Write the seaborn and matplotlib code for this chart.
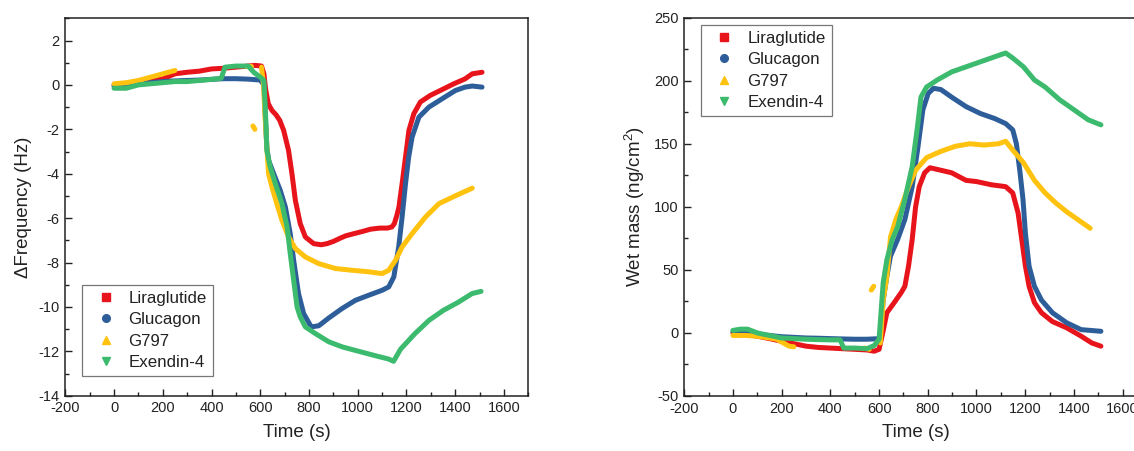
import numpy as np
import pandas as pd
import matplotlib
matplotlib.use("Agg")
import matplotlib.pyplot as plt
from matplotlib.lines import Line2D
from matplotlib.ticker import MultipleLocator
import seaborn as sns

nan = float("nan")

# ---------------- QCM-D frequency shift (Hz) ----------------
t_lira_f = [0, 50, 100, 150, 200, 250, 300, 350, 400, 450, 500, 550, 580, 605, 615, 622, 633, 648, 665, 680,
            696, 716, 730, 744, 764, 785, 819, 850, 874, 900, 929, 950, 984, 1020, 1052, 1090, 1121, 1140,
            1150, 1160, 1169, 1182, 1196, 1210, 1230, 1257, 1298, 1339, 1394, 1440, 1470, 1510]
f_lira = [0.0, 0.05, 0.1, 0.18, 0.27, 0.5, 0.57, 0.62, 0.72, 0.75, 0.8, 0.85, 0.88, 0.85, 0.5, -0.2, -0.85,
          -1.15, -1.35, -1.6, -2.05, -2.95, -4.0, -5.2, -6.25, -6.85, -7.15, -7.2, -7.15, -7.05, -6.9, -6.8,
          -6.7, -6.6, -6.5, -6.45, -6.45, -6.4, -6.25, -5.9, -5.5, -4.45, -3.25, -2.05, -1.3, -0.77, -0.47,
          -0.25, 0.05, 0.27, 0.5, 0.57]

t_gluc_f = [0, 50, 100, 150, 200, 250, 300, 350, 400, 450, 500, 550, 600, 615, 622, 627, 634, 655, 682, 703,
            723, 737, 757, 778, 809, 840, 881, 936, 991, 1046, 1100, 1127, 1148, 1168, 1182, 1196, 1209, 1223,
            1251, 1292, 1347, 1401, 1440, 1470, 1510]
f_gluc = [-0.05, 0.0, 0.05, 0.1, 0.15, 0.18, 0.2, 0.22, 0.25, 0.28, 0.28, 0.26, 0.22, 0.0, -1.75, -2.8, -3.4,
          -4.0, -4.75, -5.5, -6.7, -7.9, -9.4, -10.3, -10.9, -10.85, -10.5, -10.07, -9.7, -9.47, -9.25, -9.1,
          -8.65, -7.3, -5.95, -4.45, -3.25, -2.35, -1.45, -1.0, -0.62, -0.25, -0.1, -0.05, -0.1]

# NaN entries mark gaps in the recording
t_g797_f = [0, 50, 100, 150, 200, 250, nan, 540, 560, nan, 570, 578, nan,
            605, 613, 620, 627, 634, 648, 668, 689, 716, 744, 785, 840, 908, 977, 1046, 1100, 1127, 1155,
            1182, 1223, 1278, 1333, 1400, 1440, 1470]
f_g797 = [0.05, 0.1, 0.2, 0.35, 0.5, 0.65, nan, 0.85, 0.85, nan, -1.85, -2.0, nan,
          0.8, 0.05, -1.5, -2.8, -4.0, -4.6, -5.35, -6.1, -6.85, -7.37, -7.75, -8.05, -8.27, -8.35, -8.42,
          -8.5, -8.35, -7.9, -7.3, -6.7, -5.95, -5.35, -5.0, -4.8, -4.65]

t_exen_f = [0, 50, 100, 150, 200, 250, 300, 350, 400, 440, 455, 500, 550, 575, 600, 615, 624, 627, 641, 662,
            689, 710, 723, 737, 751, 764, 785, 826, 881, 936, 1004, 1073, 1127, 1147, 1176, 1235, 1293, 1352,
            1411, 1469, 1506]
f_exen = [-0.15, -0.15, 0.0, 0.05, 0.1, 0.15, 0.15, 0.2, 0.25, 0.3, 0.8, 0.85, 0.85, 0.55, 0.35, 0.2, -1.9,
          -2.95, -3.7, -4.45, -5.35, -6.4, -7.6, -8.8, -10.0, -10.45, -10.9, -11.2, -11.57, -11.8, -12.0,
          -12.2, -12.35, -12.45, -11.9, -11.2, -10.6, -10.15, -9.8, -9.4, -9.3]

# ---------------- Wet mass (ng/cm^2) ----------------
t_lira_m = [0, 50, 100, 150, 200, 250, 300, 350, 400, 450, 500, 550, 580, 600, 615, 632, 662, 691, 706, 721,
            736, 750, 765, 787, 809, 854, 898, 957, 1001, 1061, 1120, 1149, 1171, 1186, 1201, 1216, 1238,
            1267, 1312, 1371, 1430, 1474, 1511]
m_lira = [0, -1, -2.6, -4.5, -6.6, -8.5, -10.5, -11.5, -12, -12.5, -13, -13.5, -14.5, -13, 0, 16, 24, 32, 37,
          53, 74, 100, 116, 127, 131, 129, 127, 121, 120, 117.5, 116, 111, 95, 74, 53, 37, 24, 16, 9, 4,
          -2.6, -8, -10.5]

t_gluc_m = [0, 50, 100, 150, 200, 250, 300, 350, 400, 455, 500, 550, 603, 617, 632, 647, 676, 706, 736, 758,
            780, 802, 824, 854, 898, 957, 1016, 1075, 1120, 1149, 1164, 1179, 1191, 1201, 1216, 1238, 1267,
            1312, 1371, 1430, 1511]
m_gluc = [1.3, 2, -1, -2, -3, -3.5, -4, -4.2, -4.5, -4.8, -5, -5, -4.5, 26, 45, 61, 74, 90, 116, 145, 177,
          190, 194, 193, 187, 179.5, 174, 170, 166, 161, 150, 127, 106, 79, 53, 37, 26, 16, 8, 2.6, 1.3]

t_g797_m = [0, 50, 100, 150, 180, 230, 250, nan, 540, 560, nan, 568, 578, nan,
            605, 617, 632, 647, 669, 691, 721, 750, 795, 854, 913, 972, 1031, 1090, 1120, 1149, 1193, 1238,
            1282, 1326, 1371, 1430, 1467]
m_g797 = [-2, -2, -2.6, -4, -5, -10.5, -11, nan, -12, -13, nan, 34, 37, nan,
          -8, 26, 45, 76, 90, 100, 116, 129, 139, 144, 148, 150, 149, 150, 152, 145, 135, 121, 111, 103, 96,
          88, 83]

t_exen_m = [0, 30, 60, 100, 150, 200, 250, 300, 350, 400, 440, 455, 500, 550, 580, 600, 617, 632, 654, 676,
            706, 736, 758, 772, 795, 839, 898, 957, 1016, 1075, 1120, 1149, 1193, 1238, 1282, 1341, 1400,
            1459, 1511]
m_exen = [2, 3, 3, 0, -2, -4, -4.5, -5, -5.3, -5.5, -5.5, -12, -12, -12.5, -10, -5, 40, 58, 74, 84, 106,
          132, 164, 187, 195, 200.6, 207, 211, 215, 219, 222, 218, 211, 200.6, 195, 185, 177, 169, 165]

series_names = ["Liraglutide", "Glucagon", "G797", "Exendin-4"]
series_colors = ["#E8141C", "#2E5E9A", "#FFC20E", "#3CBA6E"]
series_markers = ["s", "o", "^", "v"]

freq_data = [(t_lira_f, f_lira), (t_gluc_f, f_gluc), (t_g797_f, f_g797), (t_exen_f, f_exen)]
mass_data = [(t_lira_m, m_lira), (t_gluc_m, m_gluc), (t_g797_m, m_g797), (t_exen_m, m_exen)]


def long_form(pairs):
    frames = []
    for name, (t, v) in zip(series_names, pairs):
        d = pd.DataFrame({"t": np.asarray(t, float), "v": np.asarray(v, float)})
        d["seg"] = d["t"].isna().cumsum()
        d["series"] = name
        frames.append(d.dropna())
    return pd.concat(frames, ignore_index=True)


sns.set_style("ticks")
plt.rcParams["font.family"] = ["Liberation Sans", "DejaVu Sans"]
plt.rcParams["mathtext.fontset"] = "custom"
plt.rcParams["mathtext.rm"] = "Liberation Sans"
plt.rcParams["mathtext.default"] = "regular"
plt.rcParams["axes.unicode_minus"] = False

fig = plt.figure(figsize=(11.34, 4.51), dpi=100)
ax1 = fig.add_axes([0.0576, 0.1226, 0.4083, 0.8368])
ax2 = fig.add_axes([0.6034, 0.1220, 0.4080, 0.8388])

palette = dict(zip(series_names, series_colors))


def draw(ax, pairs, ylim, ymaj, ymin, ylabel, legend_kw):
    df = long_form(pairs)
    sns.lineplot(data=df, x="t", y="v", hue="series", hue_order=series_names, palette=palette,
                 units="seg", estimator=None, sort=False, lw=3.6, legend=False, ax=ax)
    ax.set_xlim(-200, 1700)
    ax.set_ylim(*ylim)
    ax.xaxis.set_major_locator(MultipleLocator(200))
    ax.xaxis.set_minor_locator(MultipleLocator(100))
    ax.yaxis.set_major_locator(MultipleLocator(ymaj))
    ax.yaxis.set_minor_locator(MultipleLocator(ymin))
    ax.tick_params(which="both", direction="in", top=False, right=False, width=1.0, labelsize=10.5, pad=4,
                   colors="#222222")
    ax.tick_params(which="major", length=5)
    ax.tick_params(which="minor", length=3)
    for s in ax.spines.values():
        s.set_linewidth(1.1)
        s.set_color("#222222")
    ax.set_xlabel("Time (s)", fontsize=13.5, color="#222222", labelpad=6)
    ax.set_ylabel(ylabel, fontsize=13.5, color="#222222", labelpad=5)
    handles = [Line2D([], [], ls="none", marker=m, color=c, markersize=5.5)
               for m, c in zip(series_markers, series_colors)]
    leg = ax.legend(handles, series_names, fontsize=12.2, frameon=True, fancybox=False,
                    handlelength=2.1, handletextpad=0.3, labelspacing=0.38, borderpad=0.35,
                    borderaxespad=0, **legend_kw)
    leg.get_frame().set_edgecolor("#555555")
    leg.get_frame().set_linewidth(0.9)
    for txt in leg.get_texts():
        txt.set_color("#222222")


draw(ax1, freq_data, (-14, 3), 2, 1, "\u0394Frequency (Hz)",
     dict(loc="lower left", bbox_to_anchor=(0.036, 0.052)))
draw(ax2, mass_data, (-50, 250), 50, 25, "Wet mass (ng/cm$^2$)",
     dict(loc="upper left", bbox_to_anchor=(0.0354, 0.981)))

fig.savefig("out.png", dpi=100)
